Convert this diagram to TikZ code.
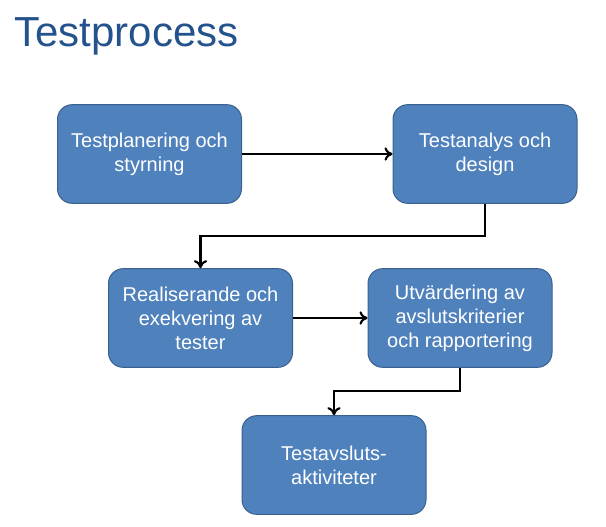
\documentclass[tikz,border=0pt]{standalone}
\usepackage{fontspec}
\setmainfont{Liberation Sans}
\usetikzlibrary{arrows.meta}
\definecolor{boxblue}{RGB}{79,129,189}
\definecolor{boxedge}{RGB}{58,96,142}
\definecolor{titleblue}{RGB}{36,82,140}

\begin{document}
\begin{tikzpicture}[x=0.75pt, y=-0.75pt,
    stage/.style = {draw=boxedge, fill=boxblue, rounded corners=11pt, minimum width=138pt, minimum height=74pt, align=center, text=white, font=\fontsize{15}{18}\selectfont, line width=0.75pt},
    flow/.style = {-{To[length=6pt,width=10pt]}, line width=1.6pt}]
    \useasboundingbox (0,0) rectangle (606,527);
    \node[anchor=base west, inner sep=0, text=titleblue, font=\fontsize{31.5}{36}\selectfont] (title) at (14,47) {Testprocess};
    \node[stage] (plan) at (149.5,154) {Testplanering och\\styrning};
    \node[stage] (analys) at (485,154) {Testanalys och\\design};
    \node[stage] (exek) at (200.5,318) {Realiserande och\\exekvering av\\tester};
    \node[stage] (utv) at (460,318) {Utvärdering av\\avslutskriterier\\och rapportering};
    \node[stage] (avslut) at (334,465) {Testavsluts-\\aktiviteter};
    \draw[flow] (plan) -- (analys);
    \draw[flow] (analys.south) -- ++(0,32) -| (exek.north);
    \draw[flow] (exek) -- (utv);
    \draw[flow] (utv.south) -- ++(0,23) -| (avslut.north);
\end{tikzpicture}
\end{document}
